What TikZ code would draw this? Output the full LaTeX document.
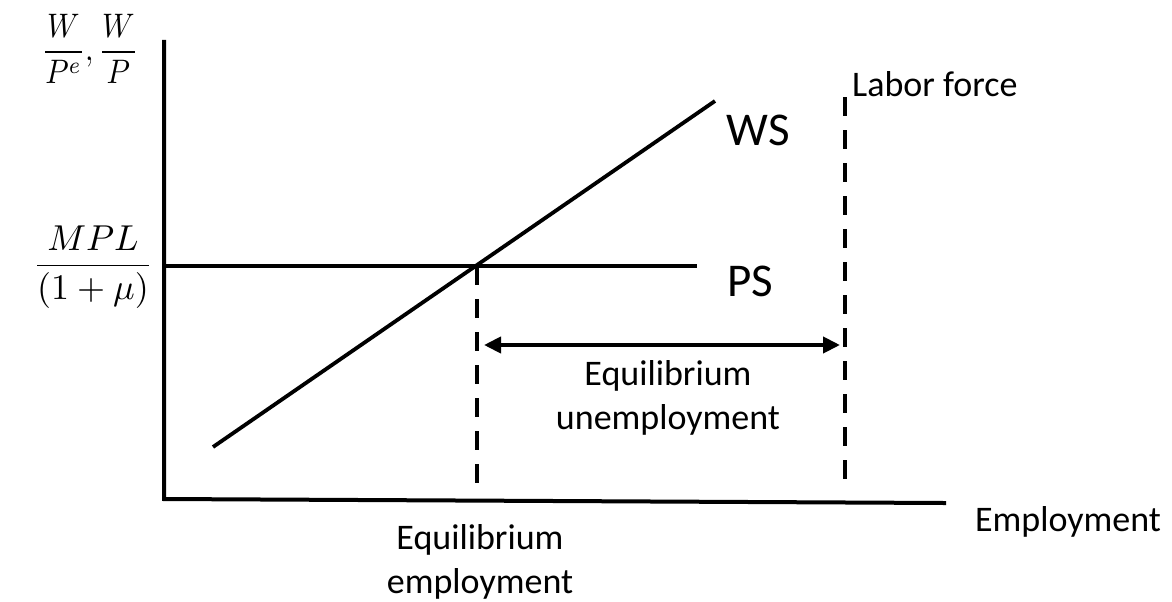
\documentclass[tikz,border=0pt]{standalone}
\usepackage{amsmath}
\usepackage{graphicx}
\usepackage{fontspec}
\setmainfont{Carlito}
\usetikzlibrary{arrows.meta}
\begin{document}
\begin{tikzpicture}[x=1pt,y=-1pt,
  axis/.style={line width=4pt},
  curve/.style={line width=3.8pt},
  dashline/.style={line width=4pt,dash pattern=on 19pt off 14pt},
  dblarrow/.style={line width=4pt,{Triangle[length=17pt,width=16pt]}-{Triangle[length=17pt,width=16pt]}},
  big/.style={inner sep=0pt,font=\fontsize{47}{47}\selectfont},
  txt/.style={inner sep=0pt,font=\fontsize{36}{36}\selectfont},
  two/.style={inner sep=0pt,align=center,font=\fontsize{36}{44}\selectfont},
  mathlbl/.style={inner sep=0pt},
]
\useasboundingbox (0,0) rectangle (1172,602);
% coordinates
\coordinate (O) at (164,499);
\coordinate (ytop) at (164,42);
\coordinate (xend) at (944,503);
\coordinate (psL) at (164,266);
\coordinate (psR) at (697,266);
\coordinate (wsA) at (213,447);
\coordinate (wsB) at (715,101);
\coordinate (eqT) at (477,266);
\coordinate (eqB) at (477,497);
\coordinate (lfT) at (845,97);
\coordinate (lfB) at (845,492);
\coordinate (aL) at (484,345);
\coordinate (aR) at (840,345);
% axes
\draw[axis,line cap=rect] (ytop) -- (O) -- (xend);
% curves
\draw[curve] (psL) -- (psR);
\draw[curve] (wsA) -- (wsB);
\draw[dashline] (eqT) -- (eqB);
\draw[dashline] (lfT) -- (lfB);
\draw[dblarrow] (aL) -- (aR);
% labels
\node[big] (ws) at (758,130) {WS};
\node[big] (ps) at (750,281) {PS};
\node[txt,anchor=west] (lf) at (852,84) {Labor force};
\node[two,anchor=base] (equ) at (668,429) {Equilibrium\\unemployment};
\node[two,anchor=base] (eqe) at (480,593) {Equilibrium\\employment};
\node[txt] (emp) at (1068,522) {Employment};
\node[mathlbl] (yl) at (90,49) {\scalebox{3.0}[3.4]{$\dfrac{W}{P^e},\dfrac{W}{P}$}};
\node[mathlbl] (mpl) at (93,267) {\scalebox{3.6}{$\dfrac{MPL}{(1+\mu)}$}};
\end{tikzpicture}
\end{document}
